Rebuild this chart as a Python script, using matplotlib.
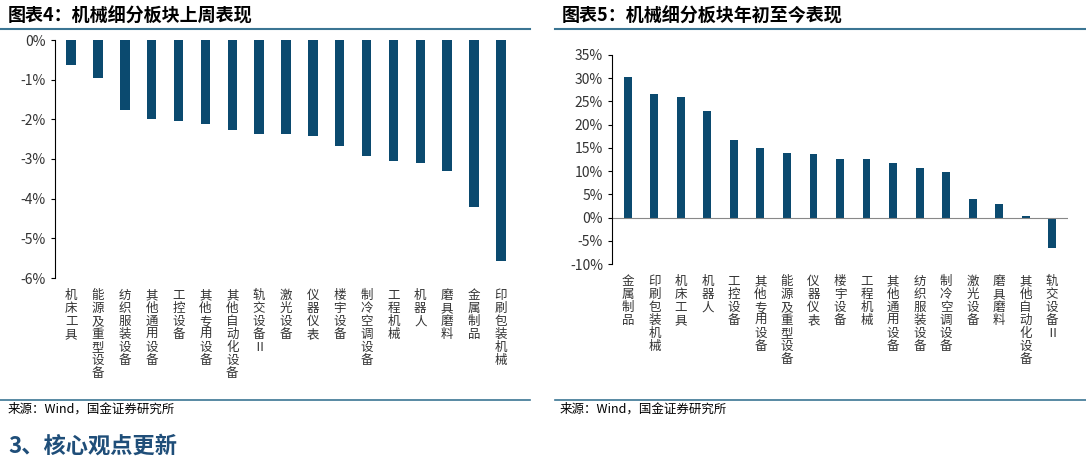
import matplotlib
matplotlib.use("Agg")
import matplotlib.pyplot as plt
from matplotlib.ticker import FuncFormatter

plt.rcParams['font.family'] = ['Noto Sans CJK SC', 'DejaVu Sans']

left_cats = ["机床工具","能源及重型设备","纺织服装设备","其他通用设备","工控设备","其他专用设备","其他自动化设备",
             "轨交设备Ⅱ","激光设备","仪器仪表","楼宇设备","制冷空调设备","工程机械","机器人","磨具磨料","金属制品","印刷包装机械"]
left_vals = [-0.62,-0.97,-1.76,-1.98,-2.03,-2.12,-2.28,-2.36,-2.36,-2.43,-2.67,-2.93,-3.04,-3.11,-3.30,-4.20,-5.58]
right_cats = ["金属制品","印刷包装机械","机床工具","机器人","工控设备","其他专用设备","能源及重型设备","仪器仪表",
              "楼宇设备","工程机械","其他通用设备","纺织服装设备","制冷空调设备","激光设备","磨具磨料","其他自动化设备","轨交设备Ⅱ"]
right_vals = [30.2,26.5,25.9,23.0,16.6,14.9,14.0,13.6,12.7,12.6,11.7,10.7,9.8,3.9,2.9,0.4,-6.5]
left_title = "图表4：机械细分板块上周表现"
right_title = "图表5：机械细分板块年初至今表现"
source = "来源：Wind，国金证券研究所"

BAR = "#0B4A6F"
LINE = "#3B7593"
fig = plt.figure(figsize=(10.86, 4.63), dpi=100)

def vert(s):
    return "\n".join(s)

def style(ax):
    for s in ["top", "right", "bottom"]:
        ax.spines[s].set_visible(False)
    ax.tick_params(axis='y', labelsize=10, labelcolor="#333333", length=3)
    ax.tick_params(axis='x', length=0, labelsize=9, labelcolor="#333333", pad=8)

# left
ax1 = fig.add_axes([55/1086, 1-278/463, 462/1086, 238/463])
x = range(len(left_cats))
ax1.bar(x, left_vals, width=0.35, color=BAR)
ax1.set_ylim(-6, 0)
ax1.set_xlim(-0.6, len(left_cats)-0.4)
ax1.set_yticks(range(-6, 1))
ax1.yaxis.set_major_formatter(FuncFormatter(lambda v, p: f"{int(v)}%"))
ax1.set_xticks(list(x))
ax1.set_xticklabels([vert(c) for c in left_cats], va='top', linespacing=1.0)
style(ax1)

# right
ax2 = fig.add_axes([612/1086, 1-264/463, 456/1086, 209/463])
x2 = range(len(right_cats))
ax2.bar(x2, right_vals, width=0.3, color=BAR)
ax2.set_ylim(-10, 35)
ax2.set_xlim(-0.6, len(right_cats)-0.4)
ax2.set_yticks(range(-10, 36, 5))
ax2.yaxis.set_major_formatter(FuncFormatter(lambda v, p: f"{int(v)}%"))
ax2.set_xticks(list(x2))
ax2.set_xticklabels([vert(c) for c in right_cats], va='top', linespacing=1.0)
style(ax2)
ax2.axhline(0, color="#888888", lw=0.8)

# titles and rules
fig.text(8/1086, 1-16/463, left_title, fontsize=13, fontweight='bold', style='italic', va='center')
fig.text(562/1086, 1-16/463, right_title, fontsize=13, fontweight='bold', style='italic', va='center')
fig.add_artist(plt.Line2D([0, 530/1086], [1-29/463]*2, color=LINE, lw=1.5))
fig.add_artist(plt.Line2D([555/1086, 1], [1-29/463]*2, color=LINE, lw=1.5))
fig.add_artist(plt.Line2D([0, 530/1086], [1-400/463]*2, color=LINE, lw=1.2))
fig.add_artist(plt.Line2D([555/1086, 1], [1-400/463]*2, color=LINE, lw=1.2))
fig.text(8/1086, 1-409/463, source, fontsize=9, va='center')
fig.text(560/1086, 1-409/463, source, fontsize=9, va='center')
fig.text(8/1086, 1-446/463, "3、核心观点更新", fontsize=16, fontweight='bold', color="#1F4E79", va='center')

fig.savefig("out.png", dpi=100)
